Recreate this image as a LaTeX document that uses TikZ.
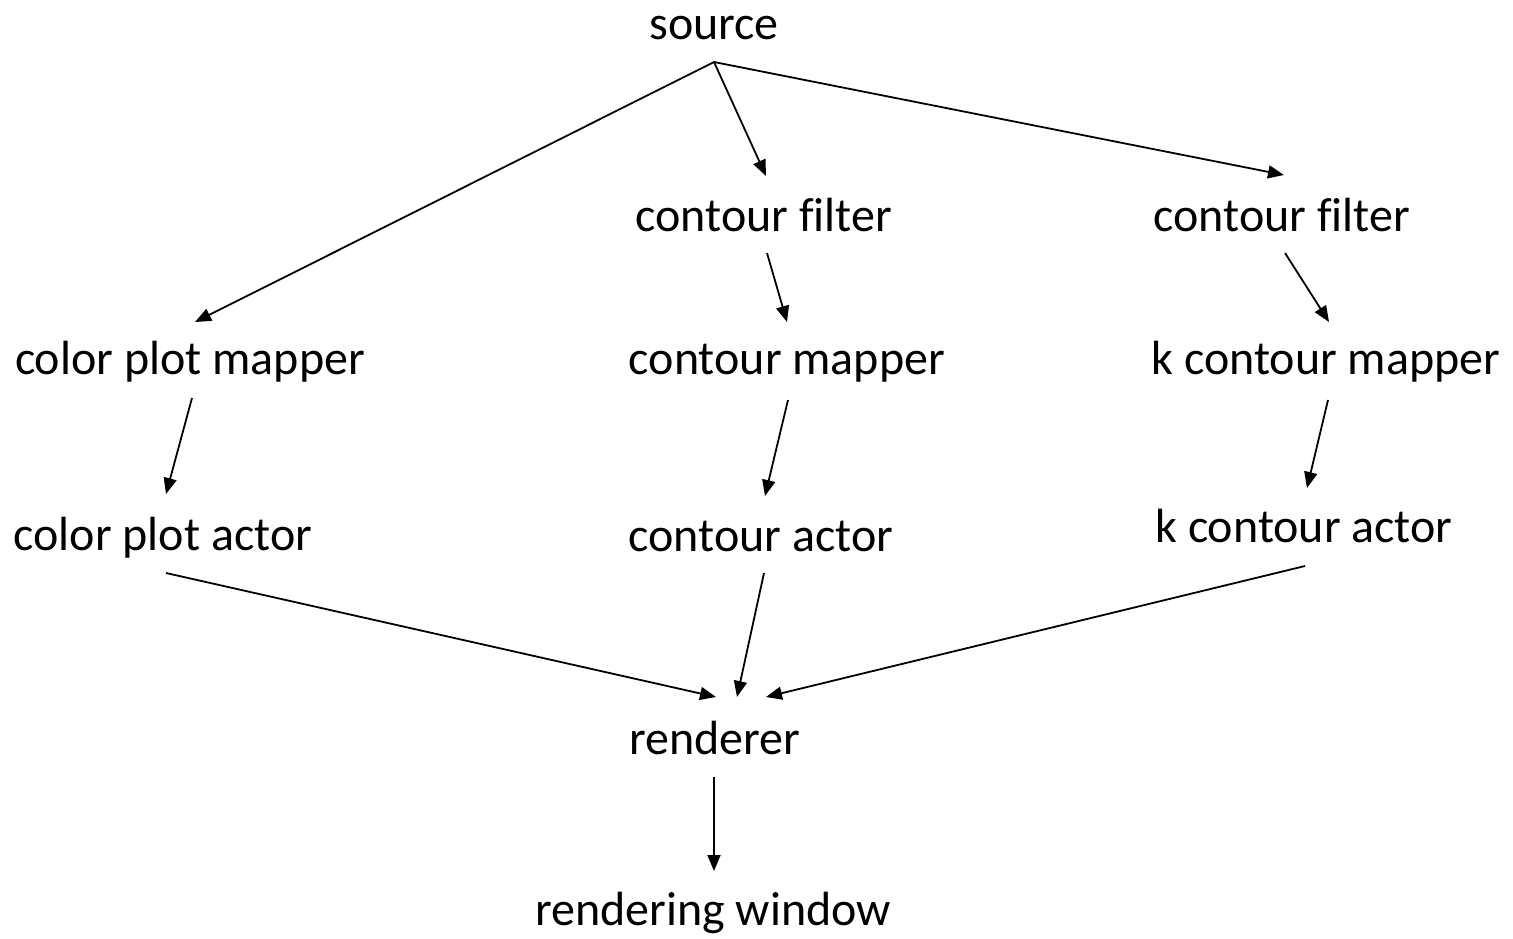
\documentclass[tikz,border=0pt]{standalone}
\usepackage{fontspec}
\setmainfont[Ligatures=NoCommon]{Carlito}
\usetikzlibrary{arrows.meta}
\begin{document}
\begin{tikzpicture}[x=1pt,y=-1pt,
  lbl/.style={anchor=base,inner sep=0pt,font=\fontsize{48}{58}\selectfont},
  flow/.style={line width=1.8pt,-{Triangle[length=16pt,width=13pt]}}]
\useasboundingbox (0,0) rectangle (1513,938);

% labels
\node[lbl] (src)   at (714,39)  {source};
\node[lbl] (cf1)   at (764,231) {contour filter};
\node[lbl] (cf2)   at (1282,231) {contour filter};
\node[lbl] (cpm)   at (190,374) {color plot mapper};
\node[lbl] (cm)    at (787,374) {contour mapper};
\node[lbl] (kcm)   at (1326,374) {k contour mapper};
\node[lbl] (cpa)   at (163,550) {color plot actor};
\node[lbl] (ca)    at (761,551) {contour actor};
\node[lbl] (kca)   at (1304,542) {k contour actor};
\node[lbl] (ren)   at (715,754) {renderer};
\node[lbl] (win)   at (713,925) {rendering window};

% connector ends
\coordinate (src-o) at (714,62);
\coordinate (cf1-i) at (766,176);
\coordinate (cf2-i) at (1284,175);
\coordinate (cpm-i) at (195,322);
\coordinate (cf1-o) at (767,253);
\coordinate (cm-i)  at (787,322);
\coordinate (cf2-o) at (1285,253);
\coordinate (kcm-i) at (1329,322);
\coordinate (cpm-o) at (192,398);
\coordinate (cpa-i) at (166,494);
\coordinate (cm-o)  at (788,400);
\coordinate (ca-i)  at (765,496);
\coordinate (kcm-o) at (1328,400);
\coordinate (kca-i) at (1307,488);
\coordinate (cpa-o) at (166,573);
\coordinate (ca-o)  at (764,573);
\coordinate (kca-o) at (1305,566);
\coordinate (ren-l) at (716,697);
\coordinate (ren-m) at (737,697);
\coordinate (ren-r) at (766,697);
\coordinate (ren-o) at (714,777);
\coordinate (win-i) at (714,871);

% connectors
\draw[flow] (src-o) -- (cpm-i);
\draw[flow] (src-o) -- (cf1-i);
\draw[flow] (src-o) -- (cf2-i);
\draw[flow] (cf1-o) -- (cm-i);
\draw[flow] (cf2-o) -- (kcm-i);
\draw[flow] (cpm-o) -- (cpa-i);
\draw[flow] (cm-o)  -- (ca-i);
\draw[flow] (kcm-o) -- (kca-i);
\draw[flow] (cpa-o) -- (ren-l);
\draw[flow] (ca-o)  -- (ren-m);
\draw[flow] (kca-o) -- (ren-r);
\draw[flow] (ren-o) -- (win-i);
\end{tikzpicture}
\end{document}
